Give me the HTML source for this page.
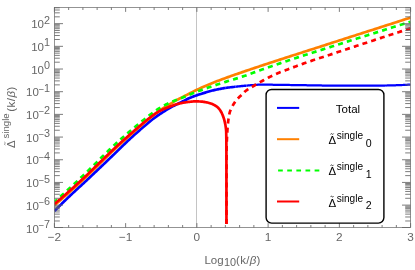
<!DOCTYPE html>
<html><head><meta charset="utf-8"><title>plot</title><style>html,body{margin:0;padding:0;background:#fff}body{width:415px;height:270px;overflow:hidden}svg{will-change:transform;transform:translateZ(0)}</style></head><body><svg width="415" height="270" viewBox="0 0 415 270" style="display:block;font-family:'Liberation Sans',sans-serif">
<rect width="415" height="270" fill="#fff"/>
<line x1="196.5" y1="7.5" x2="196.5" y2="227.5" stroke="#c4c4c4" stroke-width="1"/>
<clipPath id="c"><rect x="54.4" y="7.5" width="356.20000000000005" height="220.0"/></clipPath>
<g clip-path="url(#c)" fill="none" stroke-linejoin="round">
<path d="M54.40,211.08 L55.29,210.18 L56.19,209.28 L57.08,208.39 L57.97,207.49 L58.86,206.61 L59.76,205.72 L60.65,204.84 L61.54,203.96 L62.43,203.08 L63.33,202.21 L64.22,201.34 L65.11,200.47 L66.01,199.60 L66.90,198.74 L67.79,197.88 L68.68,197.03 L69.58,196.17 L70.47,195.32 L71.36,194.48 L72.25,193.64 L73.15,192.81 L74.04,191.98 L74.93,191.15 L75.83,190.33 L76.72,189.50 L77.61,188.68 L78.50,187.87 L79.40,187.05 L80.29,186.23 L81.18,185.41 L82.07,184.59 L82.97,183.76 L83.86,182.93 L84.75,182.10 L85.65,181.27 L86.54,180.43 L87.43,179.59 L88.32,178.75 L89.22,177.91 L90.11,177.07 L91.00,176.23 L91.89,175.38 L92.79,174.54 L93.68,173.69 L94.57,172.85 L95.47,172.00 L96.36,171.15 L97.25,170.31 L98.14,169.46 L99.04,168.61 L99.93,167.76 L100.82,166.91 L101.71,166.06 L102.61,165.21 L103.50,164.36 L104.39,163.51 L105.29,162.66 L106.18,161.81 L107.07,160.95 L107.96,160.10 L108.86,159.25 L109.75,158.39 L110.64,157.53 L111.53,156.68 L112.43,155.82 L113.32,154.97 L114.21,154.11 L115.11,153.25 L116.00,152.39 L116.89,151.52 L117.78,150.65 L118.68,149.78 L119.57,148.90 L120.46,148.03 L121.35,147.15 L122.25,146.28 L123.14,145.40 L124.03,144.53 L124.93,143.66 L125.82,142.80 L126.71,141.94 L127.60,141.09 L128.50,140.25 L129.39,139.41 L130.28,138.59 L131.17,137.77 L132.07,136.96 L132.96,136.15 L133.85,135.34 L134.75,134.54 L135.64,133.75 L136.53,132.96 L137.42,132.17 L138.32,131.39 L139.21,130.61 L140.10,129.83 L140.99,129.05 L141.89,128.28 L142.78,127.51 L143.67,126.74 L144.57,125.97 L145.46,125.21 L146.35,124.43 L147.24,123.67 L148.14,122.90 L149.03,122.15 L149.92,121.40 L150.82,120.68 L151.71,119.98 L152.60,119.30 L153.49,118.63 L154.39,117.98 L155.28,117.34 L156.17,116.70 L157.06,116.07 L157.96,115.45 L158.85,114.84 L159.74,114.23 L160.64,113.63 L161.53,113.03 L162.42,112.45 L163.31,111.87 L164.21,111.31 L165.10,110.74 L165.99,110.19 L166.88,109.64 L167.78,109.10 L168.67,108.57 L169.56,108.06 L170.46,107.56 L171.35,107.08 L172.24,106.62 L173.13,106.17 L174.03,105.72 L174.92,105.28 L175.81,104.84 L176.70,104.40 L177.60,103.95 L178.49,103.52 L179.38,103.08 L180.28,102.64 L181.17,102.20 L182.06,101.77 L182.95,101.32 L183.85,100.87 L184.74,100.41 L185.63,99.94 L186.52,99.47 L187.42,99.01 L188.31,98.57 L189.20,98.15 L190.10,97.76 L190.99,97.39 L191.88,97.05 L192.77,96.71 L193.67,96.39 L194.56,96.07 L195.45,95.76 L196.34,95.45 L197.24,95.15 L198.13,94.84 L199.02,94.54 L199.92,94.25 L200.81,93.96 L201.70,93.68 L202.59,93.40 L203.49,93.13 L204.38,92.86 L205.27,92.59 L206.16,92.32 L207.06,92.06 L207.95,91.79 L208.84,91.54 L209.74,91.28 L210.63,91.04 L211.52,90.80 L212.41,90.56 L213.31,90.34 L214.20,90.13 L215.09,89.92 L215.98,89.73 L216.88,89.54 L217.77,89.35 L218.66,89.17 L219.56,88.99 L220.45,88.81 L221.34,88.65 L222.23,88.48 L223.13,88.32 L224.02,88.17 L224.91,88.03 L225.80,87.89" stroke="#0000ff" stroke-width="2.7"/>
<path d="M225.80,87.89 L226.70,87.75 L227.59,87.63 L228.48,87.51 L229.38,87.40 L230.27,87.30 L231.16,87.20 L232.05,87.11 L232.95,87.02 L233.84,86.93 L234.73,86.83 L235.62,86.73" stroke="#0000ff" stroke-width="2.55"/>
<path d="M235.62,86.73 L236.52,86.63 L237.41,86.53 L238.30,86.43 L239.20,86.33 L240.09,86.23 L240.98,86.14 L241.87,86.05 L242.77,85.96 L243.66,85.87 L244.55,85.78 L245.44,85.70 L246.34,85.61" stroke="#0000ff" stroke-width="2.4"/>
<path d="M246.34,85.61 L247.23,85.53 L248.12,85.45 L249.02,85.37 L249.91,85.29 L250.80,85.21 L251.69,85.14 L252.59,85.06 L253.48,85.00 L254.37,84.94 L255.26,84.89 L256.16,84.83 L257.05,84.78 L257.94,84.73 L258.84,84.68 L259.73,84.65 L260.62,84.62 L261.51,84.60 L262.41,84.60 L263.30,84.60 L264.19,84.61 L265.08,84.62 L265.98,84.63 L266.87,84.65 L267.76,84.66 L268.66,84.68 L269.55,84.69 L270.44,84.71 L271.33,84.72 L272.23,84.74 L273.12,84.76 L274.01,84.78 L274.90,84.80 L275.80,84.82 L276.69,84.84 L277.58,84.86 L278.48,84.88 L279.37,84.89 L280.26,84.90 L281.15,84.91 L282.05,84.92 L282.94,84.93 L283.83,84.94 L284.72,84.95 L285.62,84.96 L286.51,84.97 L287.40,84.97 L288.30,84.98 L289.19,84.99 L290.08,85.00 L290.97,85.01 L291.87,85.02 L292.76,85.03 L293.65,85.05 L294.54,85.06 L295.44,85.07 L296.33,85.09 L297.22,85.10 L298.12,85.11 L299.01,85.13 L299.90,85.14 L300.79,85.16 L301.69,85.17 L302.58,85.18 L303.47,85.20 L304.36,85.21 L305.26,85.23 L306.15,85.24 L307.04,85.26 L307.94,85.27 L308.83,85.28 L309.72,85.30 L310.61,85.31 L311.51,85.32 L312.40,85.34 L313.29,85.35 L314.18,85.37 L315.08,85.39 L315.97,85.40 L316.86,85.42 L317.76,85.44 L318.65,85.45 L319.54,85.47 L320.43,85.48 L321.33,85.49 L322.22,85.51 L323.11,85.52 L324.01,85.53 L324.90,85.54 L325.79,85.54 L326.68,85.55 L327.58,85.55 L328.47,85.55 L329.36,85.55 L330.25,85.55 L331.15,85.55 L332.04,85.55 L332.93,85.55 L333.83,85.55 L334.72,85.55 L335.61,85.55 L336.50,85.55 L337.40,85.55 L338.29,85.55 L339.18,85.55 L340.07,85.55 L340.97,85.55 L341.86,85.55 L342.75,85.55 L343.65,85.55 L344.54,85.55 L345.43,85.55 L346.32,85.55 L347.22,85.55 L348.11,85.55 L349.00,85.56 L349.89,85.56 L350.79,85.56 L351.68,85.56 L352.57,85.57 L353.47,85.57 L354.36,85.57 L355.25,85.58 L356.14,85.58 L357.04,85.58 L357.93,85.59 L358.82,85.59 L359.71,85.59 L360.61,85.59 L361.50,85.60 L362.39,85.60 L363.29,85.60 L364.18,85.60 L365.07,85.60 L365.96,85.60 L366.86,85.60 L367.75,85.60 L368.64,85.60 L369.53,85.59 L370.43,85.59 L371.32,85.59 L372.21,85.59 L373.11,85.58 L374.00,85.58 L374.89,85.58 L375.78,85.57 L376.68,85.57 L377.57,85.56 L378.46,85.56 L379.35,85.55 L380.25,85.54 L381.14,85.54 L382.03,85.53 L382.93,85.53 L383.82,85.52 L384.71,85.51 L385.60,85.50 L386.50,85.50 L387.39,85.48 L388.28,85.47 L389.17,85.45 L390.07,85.43 L390.96,85.41 L391.85,85.38 L392.75,85.36 L393.64,85.33 L394.53,85.30 L395.42,85.27 L396.32,85.23 L397.21,85.20 L398.10,85.17 L398.99,85.14 L399.89,85.10 L400.78,85.07 L401.67,85.04 L402.57,85.00 L403.46,84.96 L404.35,84.92 L405.24,84.88 L406.14,84.83 L407.03,84.79 L407.92,84.74 L408.81,84.70 L409.71,84.65 L410.60,84.60" stroke="#0000ff" stroke-width="2.25"/>
<path d="M54.40,205.28 L56.19,203.75 L57.98,202.21 L59.77,200.66 L61.56,199.11 L63.35,197.55 L65.14,195.98 L66.93,194.40 L68.72,192.81 L70.51,191.21 L72.30,189.61 L74.09,188.00 L75.88,186.38 L77.67,184.75 L79.46,183.11 L81.25,181.46 L83.04,179.80 L84.83,178.13 L86.62,176.44 L88.41,174.74 L90.20,173.01 L91.99,171.28 L93.78,169.54 L95.57,167.80 L97.36,166.06 L99.15,164.32 L100.94,162.58 L102.73,160.84 L104.52,159.09 L106.31,157.34 L108.10,155.59 L109.89,153.85 L111.68,152.11 L113.47,150.40 L115.26,148.71 L117.05,147.03 L118.84,145.37 L120.63,143.73 L122.42,142.09 L124.21,140.46 L126.00,138.84 L127.79,137.23 L129.58,135.63 L131.37,134.03 L133.16,132.43 L134.95,130.84 L136.74,129.26 L138.53,127.68 L140.32,126.12 L142.11,124.57 L143.90,123.04 L145.69,121.52 L147.48,120.02 L149.27,118.55 L151.06,117.09 L152.85,115.66 L154.64,114.24 L156.43,112.86 L158.22,111.56 L160.01,110.33 L161.80,109.15 L163.59,108.00 L165.38,106.88 L167.17,105.81 L168.96,104.74 L170.75,103.67 L172.54,102.56 L174.33,101.46 L176.12,100.41 L177.91,99.45 L179.70,98.55 L181.49,97.66 L183.28,96.75 L185.07,95.82 L186.86,94.87 L188.65,93.93 L190.44,93.02 L192.23,92.12 L194.02,91.22 L195.81,90.33 L197.60,89.46 L199.39,88.61 L201.18,87.77 L202.97,86.96 L204.76,86.18 L206.55,85.42 L208.34,84.67 L210.13,83.94 L211.92,83.22 L213.71,82.50 L215.50,81.80 L217.29,81.10 L219.08,80.42 L220.87,79.75 L222.66,79.08 L224.45,78.42 L226.24,77.77 L228.03,77.12 L229.82,76.48 L231.61,75.85 L233.39,75.22 L235.18,74.59 L236.97,73.97 L238.76,73.36 L240.55,72.74 L242.34,72.12 L244.13,71.51 L245.92,70.90 L247.71,70.29 L249.50,69.68 L251.29,69.07 L253.08,68.47 L254.87,67.87 L256.66,67.27 L258.45,66.67 L260.24,66.07 L262.03,65.48 L263.82,64.89 L265.61,64.30 L267.40,63.71 L269.19,63.12 L270.98,62.54 L272.77,61.96 L274.56,61.38 L276.35,60.79 L278.14,60.21 L279.93,59.63 L281.72,59.05 L283.51,58.47 L285.30,57.89 L287.09,57.31 L288.88,56.73 L290.67,56.15 L292.46,55.58 L294.25,55.00 L296.04,54.42 L297.83,53.85 L299.62,53.27 L301.41,52.70 L303.20,52.12 L304.99,51.54 L306.78,50.97 L308.57,50.39 L310.36,49.81 L312.15,49.24 L313.94,48.66 L315.73,48.08 L317.52,47.51 L319.31,46.93 L321.10,46.35 L322.89,45.78 L324.68,45.20 L326.47,44.62 L328.26,44.05 L330.05,43.47 L331.84,42.89 L333.63,42.32 L335.42,41.74 L337.21,41.17 L339.00,40.59 L340.79,40.02 L342.58,39.44 L344.37,38.87 L346.16,38.29 L347.95,37.72 L349.74,37.14 L351.53,36.57 L353.32,35.99 L355.11,35.42 L356.90,34.84 L358.69,34.27 L360.48,33.69 L362.27,33.12 L364.06,32.55 L365.85,31.97 L367.64,31.40 L369.43,30.82 L371.22,30.25 L373.01,29.67 L374.80,29.10 L376.59,28.52 L378.38,27.95 L380.17,27.37 L381.96,26.80 L383.75,26.22 L385.54,25.65 L387.33,25.08 L389.12,24.50 L390.91,23.93 L392.70,23.35 L394.49,22.78 L396.28,22.20 L398.07,21.63 L399.86,21.05 L401.65,20.48 L403.44,19.90 L405.23,19.33 L407.02,18.75 L408.81,18.18 L410.60,17.60" stroke="#ff8000" stroke-width="2.7"/>
<path d="M54.40,202.08 L56.19,200.47 L57.98,198.86 L59.77,197.24 L61.56,195.61 L63.35,193.98 L65.14,192.34 L66.93,190.70 L68.72,189.05 L70.51,187.40 L72.30,185.74 L74.09,184.07 L75.88,182.41 L77.67,180.73 L79.46,179.04 L81.25,177.35 L83.04,175.65 L84.83,173.93 L86.62,172.20 L88.41,170.45 L90.20,168.69 L91.99,166.92 L93.78,165.14 L95.57,163.36 L97.36,161.59 L99.15,159.83 L100.94,158.08 L102.73,156.32 L104.52,154.55 L106.31,152.79 L108.10,151.04 L109.89,149.29 L111.68,147.57 L113.47,145.88 L115.26,144.21 L117.05,142.58 L118.84,140.96 L120.63,139.37 L122.42,137.79 L124.21,136.23 L126.00,134.68 L127.79,133.14 L129.58,131.61 L131.37,130.08 L133.16,128.57 L134.95,127.06 L136.74,125.57 L138.53,124.08 L140.32,122.61 L142.11,121.14 L143.90,119.69 L145.69,118.25 L147.48,116.81 L149.27,115.39 L151.06,114.03 L152.85,112.71 L154.64,111.41 L156.43,110.17 L158.22,108.99 L160.01,107.87 L161.80,106.80 L163.59,105.78 L165.38,104.82 L167.17,103.92 L168.96,103.06 L170.75,102.25 L172.54,101.46 L174.33,100.71 L176.12,100.00 L177.91,99.34 L179.70,98.70 L181.49,98.04 L183.28,97.35 L185.07,96.59 L186.86,95.78 L188.65,94.98 L190.44,94.22 L192.23,93.50 L194.02,92.80 L195.81,92.11 L197.60,91.44 L199.39,90.78 L201.18,90.12 L202.97,89.47 L204.76,88.82 L206.55,88.18 L208.34,87.55 L210.13,86.93 L211.92,86.32 L213.71,85.71 L215.50,85.10 L217.29,84.50 L219.08,83.91 L220.87,83.32 L222.66,82.74 L224.45,82.16 L226.24,81.59 L228.03,81.03 L229.82,80.48 L231.61,79.95 L233.39,79.43 L235.18,78.90 L236.97,78.37 L238.76,77.82 L240.55,77.25 L242.34,76.65 L244.13,76.04 L245.92,75.41 L247.71,74.76 L249.50,74.11 L251.29,73.45 L253.08,72.79 L254.87,72.12 L256.66,71.47 L258.45,70.82 L260.24,70.18 L262.03,69.56 L263.82,68.93 L265.61,68.30 L267.40,67.68 L269.19,67.05 L270.98,66.43 L272.77,65.81 L274.56,65.19 L276.35,64.58 L278.14,63.96 L279.93,63.35 L281.72,62.74 L283.51,62.14 L285.30,61.54 L287.09,60.94 L288.88,60.34 L290.67,59.75 L292.46,59.15 L294.25,58.57 L296.04,57.98 L297.83,57.40 L299.62,56.81 L301.41,56.23 L303.20,55.66 L304.99,55.08 L306.78,54.50 L308.57,53.93 L310.36,53.36 L312.15,52.79 L313.94,52.21 L315.73,51.64 L317.52,51.07 L319.31,50.51 L321.10,49.94 L322.89,49.37 L324.68,48.80 L326.47,48.23 L328.26,47.66 L330.05,47.09 L331.84,46.52 L333.63,45.95 L335.42,45.38 L337.21,44.81 L339.00,44.24 L340.79,43.68 L342.58,43.11 L344.37,42.54 L346.16,41.97 L347.95,41.40 L349.74,40.83 L351.53,40.27 L353.32,39.70 L355.11,39.13 L356.90,38.57 L358.69,38.00 L360.48,37.44 L362.27,36.87 L364.06,36.31 L365.85,35.74 L367.64,35.18 L369.43,34.61 L371.22,34.05 L373.01,33.49 L374.80,32.92 L376.59,32.36 L378.38,31.80 L380.17,31.24 L381.96,30.68 L383.75,30.12 L385.54,29.55 L387.33,28.99 L389.12,28.44 L390.91,27.88 L392.70,27.32 L394.49,26.76 L396.28,26.20 L398.07,25.64 L399.86,25.08 L401.65,24.53 L403.44,23.97 L405.23,23.42 L407.02,22.86 L408.81,22.30 L410.60,21.75" stroke="#00ff00" stroke-width="2.7" stroke-dasharray="5.05 4.18" stroke-dashoffset="1.37"/>
<path d="M54.40,204.08 L55.21,203.38 L56.03,202.69 L56.84,201.99 L57.66,201.29 L58.47,200.59 L59.28,199.88 L60.10,199.18 L60.91,198.47 L61.73,197.76 L62.54,197.05 L63.35,196.34 L64.17,195.63 L64.98,194.91 L65.80,194.20 L66.61,193.48 L67.43,192.76 L68.24,192.04 L69.05,191.31 L69.87,190.59 L70.68,189.86 L71.50,189.13 L72.31,188.40 L73.12,187.67 L73.94,186.94 L74.75,186.20 L75.57,185.46 L76.38,184.73 L77.19,183.98 L78.01,183.24 L78.82,182.50 L79.64,181.75 L80.45,181.00 L81.26,180.25 L82.08,179.49 L82.89,178.74 L83.71,177.98 L84.52,177.22 L85.33,176.46 L86.15,175.69 L86.96,174.91 L87.78,174.14 L88.59,173.36 L89.41,172.58 L90.22,171.79 L91.03,171.00 L91.85,170.21 L92.66,169.42 L93.48,168.63 L94.29,167.84 L95.10,167.05 L95.92,166.25 L96.73,165.46 L97.55,164.67 L98.36,163.88 L99.17,163.09 L99.99,162.31 L100.80,161.52 L101.62,160.73 L102.43,159.94 L103.24,159.15 L104.06,158.36 L104.87,157.56 L105.69,156.77 L106.50,155.98 L107.31,155.18 L108.13,154.39 L108.94,153.60 L109.76,152.82 L110.57,152.04 L111.38,151.26 L112.20,150.48 L113.01,149.71 L113.83,148.94 L114.64,148.18 L115.46,147.43 L116.27,146.68 L117.08,145.93 L117.90,145.19 L118.71,144.45 L119.53,143.72 L120.34,142.98 L121.15,142.25 L121.97,141.53 L122.78,140.80 L123.60,140.08 L124.41,139.36 L125.22,138.64 L126.04,137.92 L126.85,137.21 L127.67,136.49 L128.48,135.78 L129.29,135.07 L130.11,134.35 L130.92,133.64 L131.74,132.93 L132.55,132.22 L133.36,131.51 L134.18,130.80 L134.99,130.09 L135.81,129.38 L136.62,128.68 L137.44,127.98 L138.25,127.28 L139.06,126.58 L139.88,125.89 L140.69,125.19 L141.51,124.51 L142.32,123.82 L143.13,123.14 L143.95,122.47 L144.76,121.80 L145.58,121.13 L146.39,120.46 L147.20,119.80 L148.02,119.15 L148.83,118.50 L149.65,117.86 L150.46,117.23 L151.27,116.62 L152.09,116.01 L152.90,115.41 L153.72,114.81 L154.53,114.22 L155.34,113.65 L156.16,113.10 L156.97,112.58 L157.79,112.09 L158.60,111.63 L159.42,111.18 L160.23,110.75 L161.04,110.34 L161.86,109.94 L162.67,109.56 L163.49,109.19 L164.30,108.82 L165.11,108.48 L165.93,108.14 L166.74,107.81 L167.56,107.50 L168.37,107.18 L169.18,106.88 L170.00,106.58 L170.81,106.27 L171.63,105.97 L172.44,105.66 L173.25,105.36 L174.07,105.08 L174.88,104.80 L175.70,104.54 L176.51,104.30 L177.32,104.07 L178.14,103.85 L178.95,103.64 L179.77,103.44 L180.58,103.25 L181.39,103.07 L182.21,102.91 L183.02,102.76 L183.84,102.62 L184.65,102.49 L185.47,102.36 L186.28,102.24 L187.09,102.13 L187.91,102.03 L188.72,101.94 L189.54,101.85 L190.35,101.77 L191.16,101.68 L191.98,101.60 L192.79,101.52 L193.61,101.46 L194.42,101.42 L195.23,101.40 L196.05,101.40 L196.86,101.41 L197.68,101.43 L198.49,101.45 L199.30,101.48 L200.12,101.50 L200.93,101.55 L201.75,101.62 L202.56,101.71 L203.37,101.82 L204.19,101.94 L205.00,102.07 L205.82,102.21 L206.63,102.36 L207.45,102.53 L208.26,102.74 L209.07,102.96 L209.89,103.21 L210.70,103.49 L211.52,103.78 L212.33,104.09 L213.14,104.43 L213.96,104.84 L214.77,105.29 L215.59,105.78 L216.40,106.30 L217.59,107.29 L218.62,108.28 L219.43,109.27 L220.14,110.26 L220.76,111.25 L221.31,112.23 L221.82,113.22 L222.28,114.21 L222.70,115.20 L223.08,116.19 L223.43,117.18 L223.76,118.17 L224.06,119.16 L224.33,120.15 L224.58,121.14 L224.82,122.13 L225.04,123.11 L225.25,124.10 L225.43,125.09 L225.58,126.08 L225.72,127.07 L225.85,128.06 L225.98,129.05 L226.08,130.04 L226.16,131.03 L226.20,132.02 L226.22,133.01 L226.24,133.99 L226.26,134.98 L226.28,135.97 L226.30,136.96 L226.31,137.95 L226.32,138.94 L226.34,139.93 L226.35,140.92 L226.36,141.91 L226.37,142.90 L226.37,143.88 L226.38,144.87 L226.39,145.86 L226.39,146.85 L226.39,147.84 L226.40,148.83 L226.40,149.82 L226.40,150.81 L226.40,151.80 L226.40,152.79 L226.41,153.78 L226.41,154.76 L226.41,155.75 L226.41,156.74 L226.41,157.73 L226.41,158.72 L226.41,159.71 L226.41,160.70 L226.42,161.69 L226.42,162.68 L226.42,163.67 L226.42,164.66 L226.42,165.64 L226.42,166.63 L226.42,167.62 L226.42,168.61 L226.43,169.60 L226.43,170.59 L226.43,171.58 L226.43,172.57 L226.43,173.56 L226.43,174.55 L226.43,175.54 L226.43,176.52 L226.43,177.51 L226.43,178.50 L226.43,179.49 L226.43,180.48 L226.44,181.47 L226.44,182.46 L226.44,183.45 L226.44,184.44 L226.44,185.43 L226.44,186.42 L226.44,187.40 L226.44,188.39 L226.44,189.38 L226.44,190.37 L226.44,191.36 L226.44,192.35 L226.44,193.34 L226.44,194.33 L226.44,195.32 L226.44,196.31 L226.44,197.29 L226.45,198.28 L226.45,199.27 L226.45,200.26 L226.45,201.25 L226.45,202.24 L226.45,203.23 L226.45,204.22 L226.45,205.21 L226.45,206.20 L226.45,207.19 L226.45,208.17 L226.45,209.16 L226.45,210.15 L226.45,211.14 L226.45,212.13 L226.45,213.12 L226.45,214.11 L226.45,215.10 L226.45,216.09 L226.45,217.08 L226.45,218.07 L226.45,219.05 L226.45,220.04 L226.45,221.03 L226.45,222.02 L226.45,223.01 L226.45,224.00" stroke="#ff0000" stroke-width="2.7"/>
<path d="M226.50,224.00 L226.50,222.94 L226.50,221.88 L226.50,220.82 L226.50,219.76 L226.50,218.70 L226.50,217.64 L226.50,216.58 L226.50,215.52 L226.50,214.46 L226.50,213.40 L226.50,212.34 L226.50,211.28 L226.50,210.22 L226.50,209.16 L226.50,208.11 L226.50,207.05 L226.50,205.99 L226.50,204.93 L226.51,203.87 L226.51,202.81 L226.51,201.75 L226.51,200.69 L226.51,199.63 L226.51,198.57 L226.51,197.51 L226.51,196.45 L226.51,195.39 L226.51,194.33 L226.51,193.27 L226.51,192.21 L226.52,191.15 L226.52,190.09 L226.52,189.03 L226.52,187.97 L226.52,186.91 L226.52,185.85 L226.52,184.79 L226.52,183.73 L226.53,182.67 L226.53,181.61 L226.53,180.55 L226.53,179.49 L226.53,178.43 L226.53,177.37 L226.54,176.32 L226.54,175.26 L226.54,174.20 L226.54,173.14 L226.54,172.08 L226.55,171.02 L226.55,169.96 L226.55,168.90 L226.55,167.84 L226.55,166.78 L226.56,165.72 L226.56,164.66 L226.56,163.60 L226.56,162.54 L226.57,161.48 L226.57,160.42 L226.57,159.36 L226.58,158.30 L226.58,157.24 L226.58,156.18 L226.58,155.12 L226.59,154.06 L226.59,153.00 L226.59,151.94 L226.60,150.88 L226.60,149.82 L226.61,148.76 L226.62,147.70 L226.64,146.64 L226.67,145.58 L226.70,144.53 L226.74,143.47 L226.78,142.41 L226.82,141.35 L226.87,140.29 L226.92,139.23 L226.97,138.17 L227.02,137.11 L227.08,136.05 L227.14,134.99 L227.20,133.93 L227.25,132.87 L227.31,131.81 L227.37,130.75 L227.44,129.69 L227.51,128.63 L227.59,127.57 L227.68,126.51 L227.77,125.45 L227.87,124.39 L227.98,123.33 L228.09,122.27 L228.21,121.21 L228.34,120.15 L228.48,119.09 L228.64,118.03 L228.81,116.97 L228.99,115.91 L229.20,114.85 L229.42,113.79 L229.66,112.74 L229.97,111.68 L230.34,110.62 L230.77,109.56 L231.25,108.50 L231.76,107.44 L232.31,106.38 L232.88,105.32 L233.49,104.26 L234.16,103.20 L234.91,102.14 L235.71,101.08 L236.56,100.02 L237.46,98.96 L238.40,97.90 L239.27,97.09 L240.13,96.28 L241.00,95.46 L241.86,94.63 L242.73,93.78 L243.59,92.88 L244.46,92.01 L245.32,91.21 L246.19,90.53 L247.05,89.91 L247.92,89.32 L248.78,88.78 L249.65,88.26 L250.51,87.75 L251.38,87.26 L252.25,86.77 L253.11,86.27 L253.98,85.75 L254.84,85.23 L255.71,84.71 L256.57,84.20 L257.44,83.69 L258.30,83.18 L259.17,82.67 L260.03,82.17 L260.90,81.68 L261.76,81.20 L262.63,80.71 L263.49,80.23 L264.36,79.76 L265.23,79.28 L266.09,78.82 L266.96,78.36 L267.82,77.90 L268.69,77.46 L269.55,77.02 L270.42,76.60 L271.28,76.17 L272.15,75.75 L273.01,75.34 L273.88,74.94 L274.74,74.54 L275.61,74.15 L276.47,73.77 L277.34,73.39 L278.21,73.03 L279.07,72.68 L279.94,72.34 L280.80,72.01 L281.67,71.69 L282.53,71.37 L283.40,71.05 L284.26,70.73 L285.13,70.40 L285.99,70.08 L286.86,69.75 L287.72,69.42 L288.59,69.09 L289.45,68.76 L290.32,68.43 L291.18,68.10 L292.05,67.78 L292.92,67.45 L293.78,67.12 L294.65,66.79 L295.51,66.47 L296.38,66.14 L297.24,65.82 L298.11,65.50 L298.97,65.18 L299.84,64.86 L300.70,64.55 L301.57,64.23 L302.43,63.92 L303.30,63.61 L304.16,63.31 L305.03,63.00 L305.90,62.70 L306.76,62.40 L307.63,62.10 L308.49,61.81 L309.36,61.51 L310.22,61.22 L311.09,60.93 L311.95,60.63 L312.82,60.34 L313.68,60.06 L314.55,59.77 L315.41,59.48 L316.28,59.20 L317.14,58.91 L318.01,58.63 L318.88,58.34 L319.74,58.06 L320.61,57.78 L321.47,57.49 L322.34,57.21 L323.20,56.93 L324.07,56.65 L324.93,56.36 L325.80,56.08 L326.66,55.80 L327.53,55.51 L328.39,55.23 L329.26,54.94 L330.12,54.66 L330.99,54.37 L331.86,54.09 L332.72,53.80 L333.59,53.51 L334.45,53.23 L335.32,52.94 L336.18,52.65 L337.05,52.37 L337.91,52.08 L338.78,51.80 L339.64,51.51 L340.51,51.23 L341.37,50.94 L342.24,50.65 L343.10,50.37 L343.97,50.08 L344.84,49.80 L345.70,49.51 L346.57,49.23 L347.43,48.94 L348.30,48.66 L349.16,48.37 L350.03,48.09 L350.89,47.80 L351.76,47.51 L352.62,47.23 L353.49,46.94 L354.35,46.66 L355.22,46.38 L356.08,46.09 L356.95,45.81 L357.82,45.52 L358.68,45.24 L359.55,44.95 L360.41,44.67 L361.28,44.38 L362.14,44.10 L363.01,43.81 L363.87,43.53 L364.74,43.25 L365.60,42.96 L366.47,42.68 L367.33,42.39 L368.20,42.11 L369.06,41.83 L369.93,41.54 L370.79,41.26 L371.66,40.98 L372.53,40.69 L373.39,40.41 L374.26,40.13 L375.12,39.84 L375.99,39.56 L376.85,39.28 L377.72,38.99 L378.58,38.71 L379.45,38.43 L380.31,38.14 L381.18,37.86 L382.04,37.58 L382.91,37.30 L383.77,37.01 L384.64,36.73 L385.51,36.45 L386.37,36.17 L387.24,35.88 L388.10,35.60 L388.97,35.32 L389.83,35.04 L390.70,34.76 L391.56,34.48 L392.43,34.19 L393.29,33.91 L394.16,33.63 L395.02,33.35 L395.89,33.07 L396.75,32.79 L397.62,32.51 L398.49,32.22 L399.35,31.94 L400.22,31.66 L401.08,31.38 L401.95,31.10 L402.81,30.82 L403.68,30.54 L404.54,30.26 L405.41,29.98 L406.27,29.70 L407.14,29.42 L408.00,29.14 L408.87,28.86 L409.73,28.58 L410.60,28.30" stroke="#ff0000" stroke-width="2.7" stroke-dasharray="5.0 4.15" stroke-dashoffset="0.1"/>
</g>
<g stroke="#666" stroke-width="0.7" fill="none">
<rect x="54.4" y="7.5" width="356.20000000000005" height="220.0"/>
<path d="M54.4,227.50h8.6M410.6,227.50h-8.6M54.4,220.97h5.4M410.6,220.97h-5.4M54.4,216.98h5.4M410.6,216.98h-5.4M54.4,214.14h5.4M410.6,214.14h-5.4M54.4,211.95h5.4M410.6,211.95h-5.4M54.4,210.15h5.4M410.6,210.15h-5.4M54.4,208.63h5.4M410.6,208.63h-5.4M54.4,207.32h5.4M410.6,207.32h-5.4M54.4,206.16h5.4M410.6,206.16h-5.4M54.4,205.12h8.6M410.6,205.12h-8.6M54.4,198.29h5.4M410.6,198.29h-5.4M54.4,194.29h5.4M410.6,194.29h-5.4M54.4,191.46h5.4M410.6,191.46h-5.4M54.4,189.26h5.4M410.6,189.26h-5.4M54.4,187.47h5.4M410.6,187.47h-5.4M54.4,185.95h5.4M410.6,185.95h-5.4M54.4,184.63h5.4M410.6,184.63h-5.4M54.4,183.47h5.4M410.6,183.47h-5.4M54.4,182.43h8.6M410.6,182.43h-8.6M54.4,175.61h5.4M410.6,175.61h-5.4M54.4,171.61h5.4M410.6,171.61h-5.4M54.4,168.78h5.4M410.6,168.78h-5.4M54.4,166.58h5.4M410.6,166.58h-5.4M54.4,164.78h5.4M410.6,164.78h-5.4M54.4,163.27h5.4M410.6,163.27h-5.4M54.4,161.95h5.4M410.6,161.95h-5.4M54.4,160.79h5.4M410.6,160.79h-5.4M54.4,159.75h8.6M410.6,159.75h-8.6M54.4,152.92h5.4M410.6,152.92h-5.4M54.4,148.93h5.4M410.6,148.93h-5.4M54.4,146.10h5.4M410.6,146.10h-5.4M54.4,143.90h5.4M410.6,143.90h-5.4M54.4,142.10h5.4M410.6,142.10h-5.4M54.4,140.58h5.4M410.6,140.58h-5.4M54.4,139.27h5.4M410.6,139.27h-5.4M54.4,138.11h5.4M410.6,138.11h-5.4M54.4,137.07h8.6M410.6,137.07h-8.6M54.4,130.24h5.4M410.6,130.24h-5.4M54.4,126.25h5.4M410.6,126.25h-5.4M54.4,123.41h5.4M410.6,123.41h-5.4M54.4,121.21h5.4M410.6,121.21h-5.4M54.4,119.42h5.4M410.6,119.42h-5.4M54.4,117.90h5.4M410.6,117.90h-5.4M54.4,116.58h5.4M410.6,116.58h-5.4M54.4,115.42h5.4M410.6,115.42h-5.4M54.4,114.39h8.6M410.6,114.39h-8.6M54.4,107.56h5.4M410.6,107.56h-5.4M54.4,103.56h5.4M410.6,103.56h-5.4M54.4,100.73h5.4M410.6,100.73h-5.4M54.4,98.53h5.4M410.6,98.53h-5.4M54.4,96.74h5.4M410.6,96.74h-5.4M54.4,95.22h5.4M410.6,95.22h-5.4M54.4,93.90h5.4M410.6,93.90h-5.4M54.4,92.74h5.4M410.6,92.74h-5.4M54.4,91.70h8.6M410.6,91.70h-8.6M54.4,84.87h5.4M410.6,84.87h-5.4M54.4,80.88h5.4M410.6,80.88h-5.4M54.4,78.05h5.4M410.6,78.05h-5.4M54.4,75.85h5.4M410.6,75.85h-5.4M54.4,74.05h5.4M410.6,74.05h-5.4M54.4,72.53h5.4M410.6,72.53h-5.4M54.4,71.22h5.4M410.6,71.22h-5.4M54.4,70.06h5.4M410.6,70.06h-5.4M54.4,69.02h8.6M410.6,69.02h-8.6M54.4,62.19h5.4M410.6,62.19h-5.4M54.4,58.20h5.4M410.6,58.20h-5.4M54.4,55.36h5.4M410.6,55.36h-5.4M54.4,53.17h5.4M410.6,53.17h-5.4M54.4,51.37h5.4M410.6,51.37h-5.4M54.4,49.85h5.4M410.6,49.85h-5.4M54.4,48.54h5.4M410.6,48.54h-5.4M54.4,47.38h5.4M410.6,47.38h-5.4M54.4,46.34h8.6M410.6,46.34h-8.6M54.4,39.51h5.4M410.6,39.51h-5.4M54.4,35.51h5.4M410.6,35.51h-5.4M54.4,32.68h5.4M410.6,32.68h-5.4M54.4,30.48h5.4M410.6,30.48h-5.4M54.4,28.69h5.4M410.6,28.69h-5.4M54.4,27.17h5.4M410.6,27.17h-5.4M54.4,25.85h5.4M410.6,25.85h-5.4M54.4,24.69h5.4M410.6,24.69h-5.4M54.4,23.65h8.6M410.6,23.65h-8.6M54.4,16.83h5.4M410.6,16.83h-5.4M54.4,12.83h5.4M410.6,12.83h-5.4M54.4,10.00h5.4M410.6,10.00h-5.4M54.4,7.80h5.4M410.6,7.80h-5.4M54.40,227.5v-4.4M54.40,7.5v4.4M68.65,227.5v-2.5M68.65,7.5v2.5M82.90,227.5v-2.5M82.90,7.5v2.5M97.14,227.5v-2.5M97.14,7.5v2.5M111.39,227.5v-2.5M111.39,7.5v2.5M125.64,227.5v-4.4M125.64,7.5v4.4M139.89,227.5v-2.5M139.89,7.5v2.5M154.14,227.5v-2.5M154.14,7.5v2.5M168.38,227.5v-2.5M168.38,7.5v2.5M182.63,227.5v-2.5M182.63,7.5v2.5M196.88,227.5v-4.4M196.88,7.5v4.4M211.13,227.5v-2.5M211.13,7.5v2.5M225.38,227.5v-2.5M225.38,7.5v2.5M239.62,227.5v-2.5M239.62,7.5v2.5M253.87,227.5v-2.5M253.87,7.5v2.5M268.12,227.5v-4.4M268.12,7.5v4.4M282.37,227.5v-2.5M282.37,7.5v2.5M296.62,227.5v-2.5M296.62,7.5v2.5M310.86,227.5v-2.5M310.86,7.5v2.5M325.11,227.5v-2.5M325.11,7.5v2.5M339.36,227.5v-4.4M339.36,7.5v4.4M353.61,227.5v-2.5M353.61,7.5v2.5M367.86,227.5v-2.5M367.86,7.5v2.5M382.10,227.5v-2.5M382.10,7.5v2.5M396.35,227.5v-2.5M396.35,7.5v2.5M410.60,227.5v-4.4M410.60,7.5v4.4" stroke-width="0.85"/>
</g>
<g fill="#666" font-size="11.5px">
<text x="50" y="232.50" text-anchor="end" font-size="11.5px">10<tspan dy="-3.6" dx="-0.5" font-size="9.6px">−</tspan><tspan dy="-1.0" font-size="10.8px">7</tspan></text>
<text x="50" y="209.82" text-anchor="end" font-size="11.5px">10<tspan dy="-3.6" dx="-0.5" font-size="9.6px">−</tspan><tspan dy="-1.0" font-size="10.8px">6</tspan></text>
<text x="50" y="187.13" text-anchor="end" font-size="11.5px">10<tspan dy="-3.6" dx="-0.5" font-size="9.6px">−</tspan><tspan dy="-1.0" font-size="10.8px">5</tspan></text>
<text x="50" y="164.45" text-anchor="end" font-size="11.5px">10<tspan dy="-3.6" dx="-0.5" font-size="9.6px">−</tspan><tspan dy="-1.0" font-size="10.8px">4</tspan></text>
<text x="50" y="141.77" text-anchor="end" font-size="11.5px">10<tspan dy="-3.6" dx="-0.5" font-size="9.6px">−</tspan><tspan dy="-1.0" font-size="10.8px">3</tspan></text>
<text x="50" y="119.09" text-anchor="end" font-size="11.5px">10<tspan dy="-3.6" dx="-0.5" font-size="9.6px">−</tspan><tspan dy="-1.0" font-size="10.8px">2</tspan></text>
<text x="50" y="96.40" text-anchor="end" font-size="11.5px">10<tspan dy="-3.6" dx="-0.5" font-size="9.6px">−</tspan><tspan dy="-1.0" font-size="10.8px">1</tspan></text>
<text x="50" y="73.72" text-anchor="end" font-size="11.5px">10<tspan dy="-4.6" font-size="10.8px">0</tspan></text>
<text x="50" y="51.04" text-anchor="end" font-size="11.5px">10<tspan dy="-4.6" font-size="10.8px">1</tspan></text>
<text x="50" y="28.35" text-anchor="end" font-size="11.5px">10<tspan dy="-4.6" font-size="10.8px">2</tspan></text>
<text x="54.40" y="241.3" text-anchor="middle" font-size="11.8px">−2</text>
<text x="125.64" y="241.3" text-anchor="middle" font-size="11.8px">−1</text>
<text x="196.88" y="241.3" text-anchor="middle" font-size="11.8px">0</text>
<text x="268.12" y="241.3" text-anchor="middle" font-size="11.8px">1</text>
<text x="339.36" y="241.3" text-anchor="middle" font-size="11.8px">2</text>
<text x="410.60" y="241.3" text-anchor="middle" font-size="11.8px">3</text>
<text x="204.4" y="263.6">Log<tspan dy="2.8" dx="0.3" font-size="10.9px">10</tspan><tspan dy="-2.8" letter-spacing="0.3">(k/</tspan><tspan font-style="italic" letter-spacing="0.3">β</tspan>)</text>
<g transform="translate(15,148) rotate(-90)"><text x="0" y="0">Δ<tspan dy="-6.1" dx="1.9" font-size="9.6px">single</tspan><tspan dy="6.1" dx="1.6" letter-spacing="0.45">(k/</tspan><tspan font-style="italic" letter-spacing="0.45">β</tspan>)</text><path d="M2.9,-9.7c0.5,-0.9 1.0,-0.9 1.55,-0.4s1.05,0.5 1.55,-0.4" fill="none" stroke="#666" stroke-width="0.75"/></g>
</g>
<rect x="266.1" y="89.5" width="117.8" height="133.6" rx="5.5" ry="5.5" fill="#fff" stroke="#000" stroke-width="1.4"/>
<line x1="277" y1="107.9" x2="299.2" y2="107.9" stroke="#0000ff" stroke-width="2.0"/>
<line x1="277" y1="139.2" x2="299.2" y2="139.2" stroke="#ff8000" stroke-width="2.0"/>
<line x1="278.1" y1="170.5" x2="320" y2="170.5" stroke="#00ff00" stroke-width="2.0" stroke-dasharray="4.7 4.43"/>
<line x1="277" y1="201.5" x2="299.2" y2="201.5" stroke="#ff0000" stroke-width="2.0"/>
<g fill="#000" font-size="11.5px">
<text x="335.8" y="112.8">Total</text>
<text x="328.6" y="144.1">Δ<tspan dy="-5.2" dx="0.4" font-size="10.1px">single</tspan><tspan dy="7.6" dx="2.6" font-size="10.6px">0</tspan></text>
<path d="M330.5,134.40c0.5,-0.9 1.0,-0.9 1.55,-0.4s1.05,0.5 1.55,-0.4" fill="none" stroke="#000" stroke-width="0.75"/>
<text x="328.6" y="175.4">Δ<tspan dy="-5.2" dx="0.4" font-size="10.1px">single</tspan><tspan dy="7.6" dx="2.6" font-size="10.6px">1</tspan></text>
<path d="M330.5,165.70c0.5,-0.9 1.0,-0.9 1.55,-0.4s1.05,0.5 1.55,-0.4" fill="none" stroke="#000" stroke-width="0.75"/>
<text x="328.6" y="206.7">Δ<tspan dy="-5.2" dx="0.4" font-size="10.1px">single</tspan><tspan dy="7.6" dx="2.6" font-size="10.6px">2</tspan></text>
<path d="M330.5,197.00c0.5,-0.9 1.0,-0.9 1.55,-0.4s1.05,0.5 1.55,-0.4" fill="none" stroke="#000" stroke-width="0.75"/>
</g>
</svg></body></html>
